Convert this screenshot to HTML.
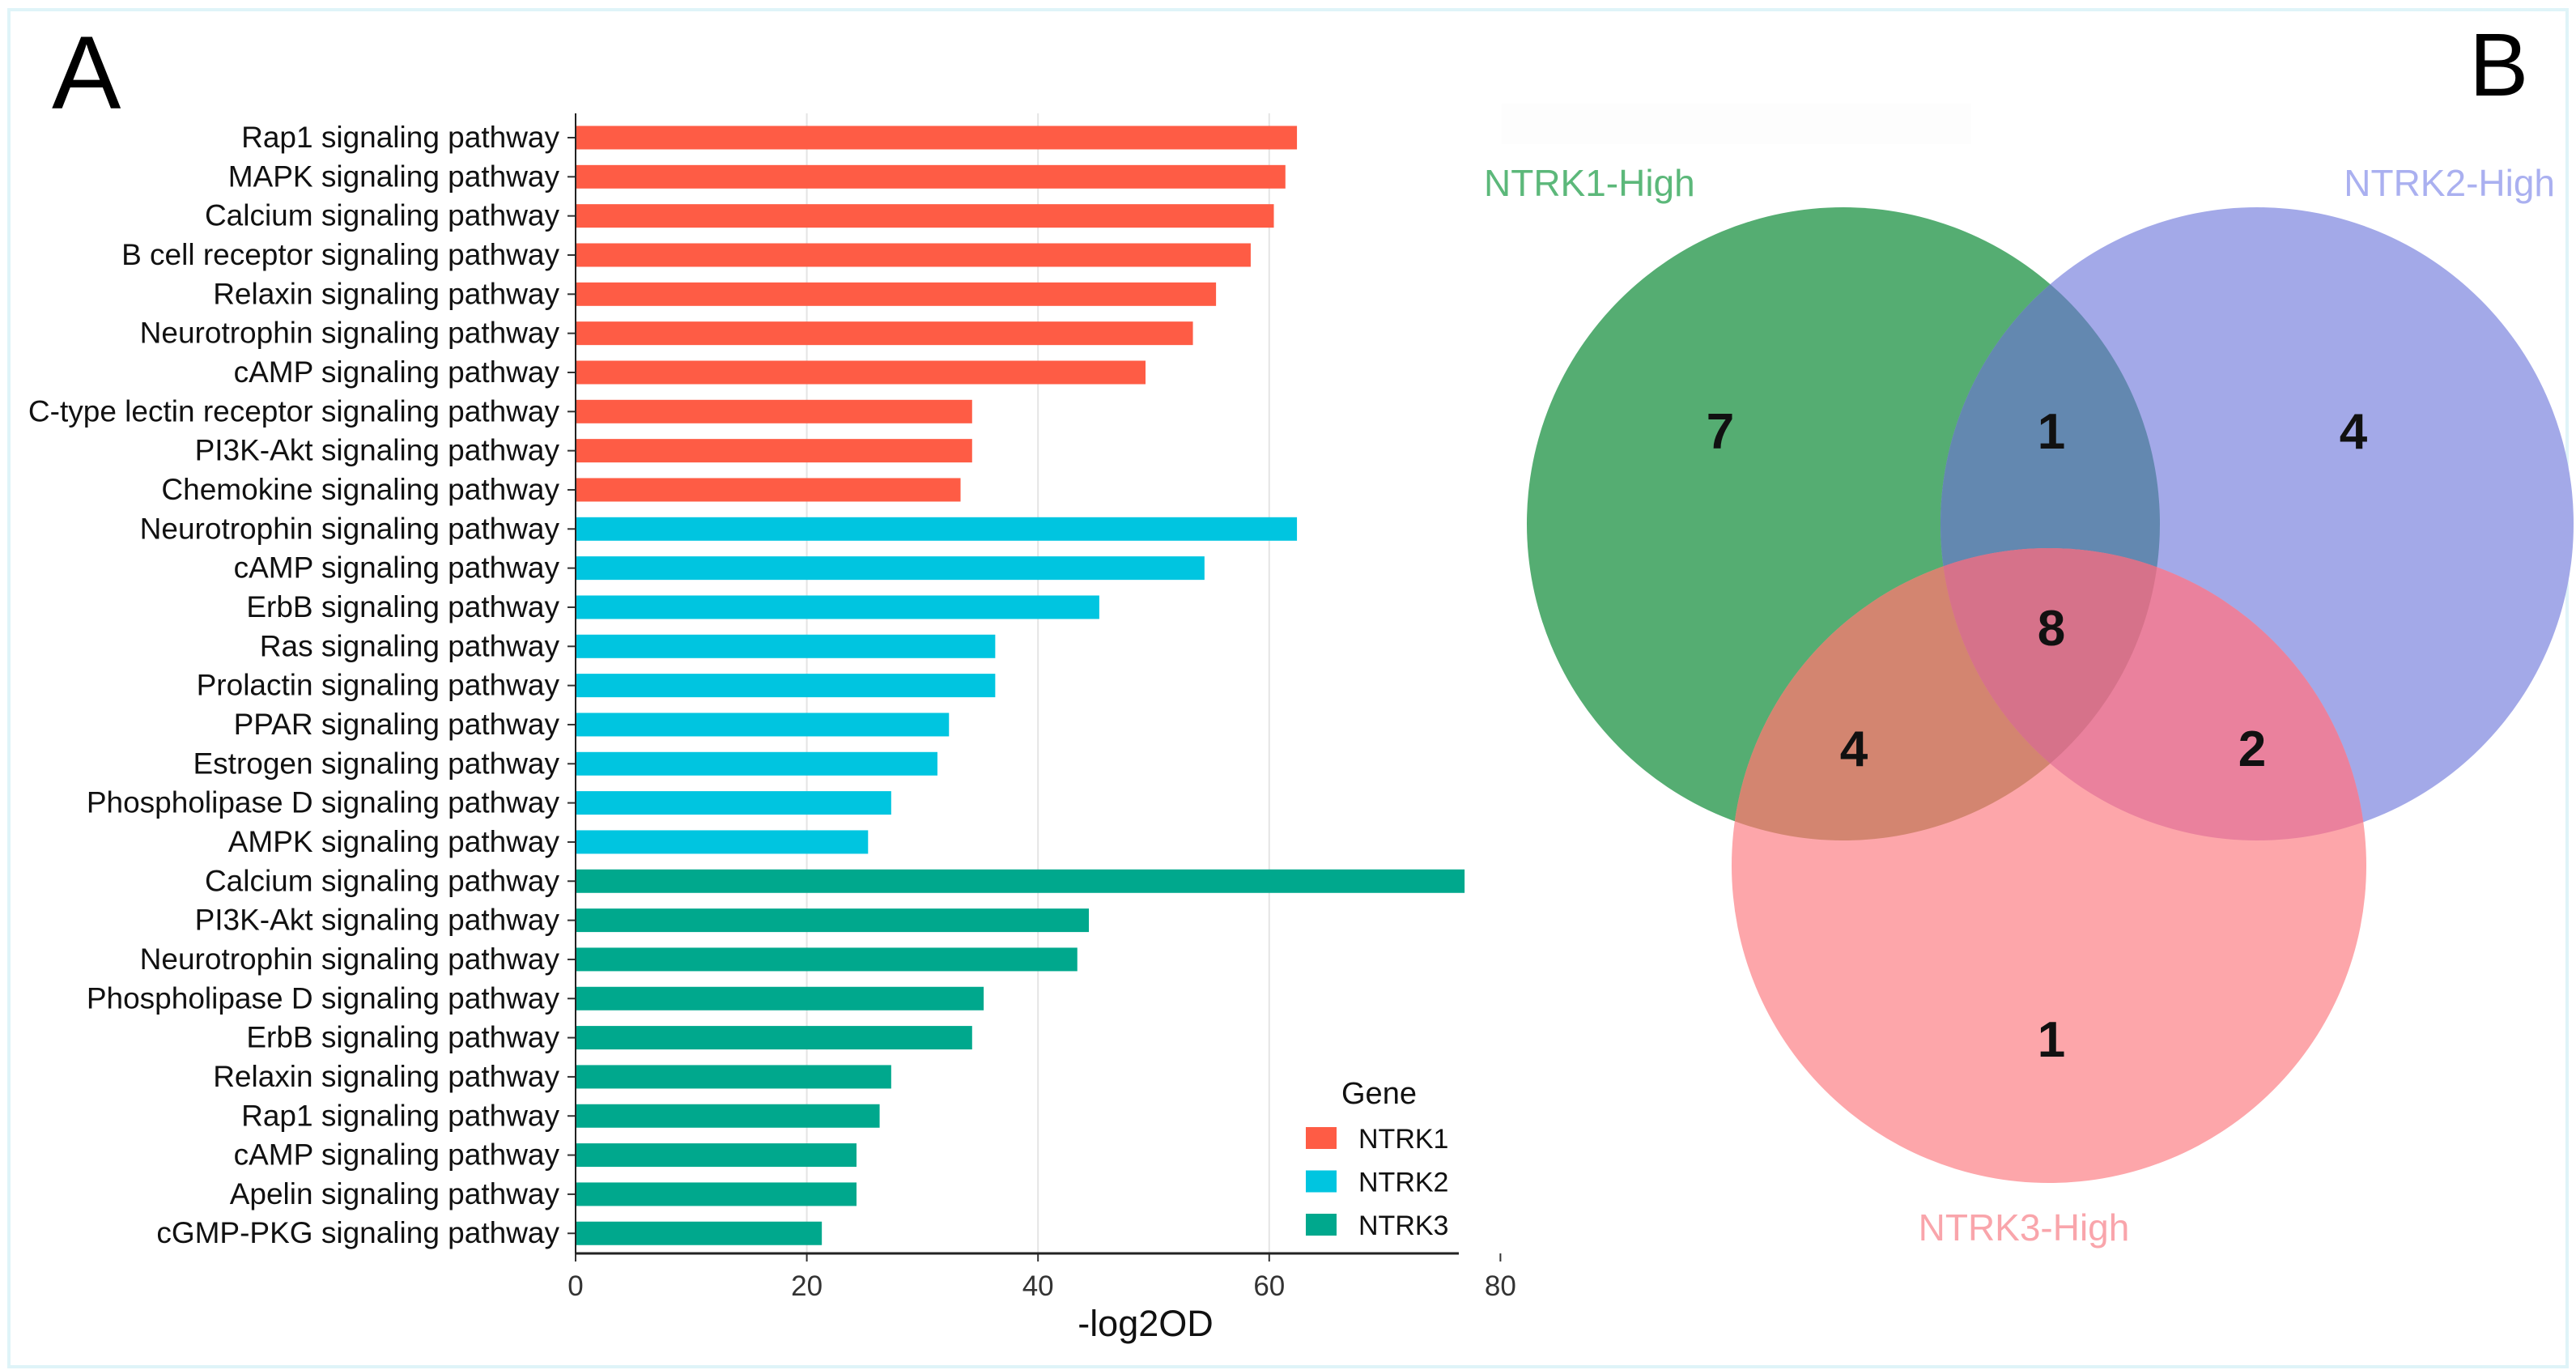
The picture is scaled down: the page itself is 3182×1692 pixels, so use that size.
<!DOCTYPE html>
<html><head><meta charset="utf-8"><style>
html,body{margin:0;padding:0;background:#fff}
svg{display:block}
text{font-family:"Liberation Sans",sans-serif}
</style></head><body>
<svg id="fig" width="3182" height="1692" viewBox="0 0 3182 1692" xmlns="http://www.w3.org/2000/svg">
<rect x="11" y="12" width="3160" height="1676" fill="#fff" stroke="#dff4f8" stroke-width="4"/>
<text x="64" y="134" font-size="128" fill="#000">A</text>
<text x="3050" y="118" font-size="110" fill="#000">B</text>
<g id="chart"></g>
<g id="venn">
<defs>
<clipPath id="cG"><circle cx="2277" cy="647" r="391"/></clipPath>
<clipPath id="cB"><circle cx="2788" cy="647" r="391"/></clipPath>
<clipPath id="cP"><circle cx="2531" cy="1069" r="392"/></clipPath>
</defs>
<rect x="1855" y="128" width="580" height="50" fill="#fdfdfd"/>
<circle cx="2277" cy="647" r="391" fill="#55ad72"/>
<circle cx="2788" cy="647" r="391" fill="#a3a9e8"/>
<circle cx="2531" cy="1069" r="392" fill="#fda6aa"/>
<g clip-path="url(#cG)"><circle cx="2788" cy="647" r="391" fill="#6388b0"/></g>
<g clip-path="url(#cG)"><circle cx="2531" cy="1069" r="392" fill="#d38570"/></g>
<g clip-path="url(#cB)"><circle cx="2531" cy="1069" r="392" fill="#ea819d"/></g>
<g clip-path="url(#cG)"><g clip-path="url(#cB)"><circle cx="2531" cy="1069" r="392" fill="#d6728a"/></g></g>
<text x="1833" y="242" font-size="46" fill="#5cb87a">NTRK1-High</text>
<text x="3156" y="242" font-size="46" fill="#aab0f0" text-anchor="end">NTRK2-High</text>
<text x="2500" y="1532" font-size="46" fill="#f9a5ab" text-anchor="middle">NTRK3-High</text>
<g font-size="62" font-weight="bold" fill="#111" text-anchor="middle">
<text x="2125" y="554">7</text>
<text x="2534" y="554">1</text>
<text x="2907" y="554">4</text>
<text x="2534" y="797">8</text>
<text x="2290" y="946">4</text>
<text x="2782" y="946">2</text>
<text x="2534" y="1305">1</text>
</g>
</g>
</svg>
<script>
const categories = ["Rap1 signaling pathway","MAPK signaling pathway","Calcium signaling pathway","B cell receptor signaling pathway","Relaxin signaling pathway","Neurotrophin signaling pathway","cAMP signaling pathway","C-type lectin receptor signaling pathway","PI3K-Akt signaling pathway","Chemokine signaling pathway","Neurotrophin signaling pathway","cAMP signaling pathway","ErbB signaling pathway","Ras signaling pathway","Prolactin signaling pathway","PPAR signaling pathway","Estrogen signaling pathway","Phospholipase D signaling pathway","AMPK signaling pathway","Calcium signaling pathway","PI3K-Akt signaling pathway","Neurotrophin signaling pathway","Phospholipase D signaling pathway","ErbB signaling pathway","Relaxin signaling pathway","Rap1 signaling pathway","cAMP signaling pathway","Apelin signaling pathway","cGMP-PKG signaling pathway"];
const values = [62.4,61.4,60.4,58.4,55.4,53.4,49.3,34.3,34.3,33.3,62.4,54.4,45.3,36.3,36.3,32.3,31.3,27.3,25.3,76.9,44.4,43.4,35.3,34.3,27.3,26.3,24.3,24.3,21.3];
const genes = ["NTRK1","NTRK1","NTRK1","NTRK1","NTRK1","NTRK1","NTRK1","NTRK1","NTRK1","NTRK1","NTRK2","NTRK2","NTRK2","NTRK2","NTRK2","NTRK2","NTRK2","NTRK2","NTRK2","NTRK3","NTRK3","NTRK3","NTRK3","NTRK3","NTRK3","NTRK3","NTRK3","NTRK3","NTRK3"];
const legendGenes = ["NTRK1","NTRK2","NTRK3"];
const ticks = [0,20,40,60,80];
const colors = {NTRK1:"#fe5c45",NTRK2:"#00c5e0",NTRK3:"#00a88d"};
const NS="http://www.w3.org/2000/svg";
const g=document.getElementById('chart');
const x0=711, pxPerUnit=14.28, yTop=170, step=48.33, barH=29, axisY=1548, axisEnd=1802;
const xs=v=>x0+v*pxPerUnit;
const ys=i=>yTop+i*step;
function mk(tag,attrs){const e=document.createElementNS(NS,tag);for(const k in attrs)e.setAttribute(k,attrs[k]);g.appendChild(e);return e;}
ticks.forEach(t=>{
  if(t>0 && xs(t)<axisEnd){const l=mk('line',{x1:xs(t),x2:xs(t),y1:140,y2:axisY,stroke:'#e4e4e4','stroke-width':2});
  
  }
  const tl=mk('line',{x1:xs(t),x2:xs(t),y1:axisY,y2:axisY+10,stroke:'#333','stroke-width':2});
  
  
  const tx=mk('text',{x:xs(t),y:axisY+52,'font-size':35,'text-anchor':'middle',fill:'#333'});
  tx.textContent=t;
  
  
});
categories.forEach((c,i)=>{
  const y=ys(i);
  const r=mk('rect',{x:x0,y:y-barH/2,width:xs(values[i])-x0,height:barH,fill:colors[genes[i]]});
  
  
  const tk=mk('line',{x1:x0-10,x2:x0,y1:y,y2:y,stroke:'#333','stroke-width':2});
  
  
  const t=mk('text',{x:x0-20,y:y+12,'font-size':37,'text-anchor':'end',fill:'#111'});
  t.textContent=c;
  
  
});
const ya=mk('line',{x1:x0,x2:x0,y1:140,y2:axisY,stroke:'#222','stroke-width':2});


const xa=mk('line',{x1:x0,x2:axisEnd,y1:axisY,y2:axisY,stroke:'#222','stroke-width':3});


const xt=mk('text',{x:1415,y:1650,'font-size':45,'text-anchor':'middle',fill:'#111'});
xt.textContent='-log2OD';


const lt=mk('text',{x:1657,y:1363,'font-size':38,fill:'#111'});
lt.textContent='Gene';


legendGenes.forEach((gn,i)=>{
  const y=1392+i*53.5;
  const s=mk('rect',{x:1613,y:y,width:38,height:27,fill:colors[gn]});
  
  
  const t=mk('text',{x:1678,y:y+26,'font-size':34,fill:'#111'});
  t.textContent=gn;
  
  
});
</script>
</body></html>
